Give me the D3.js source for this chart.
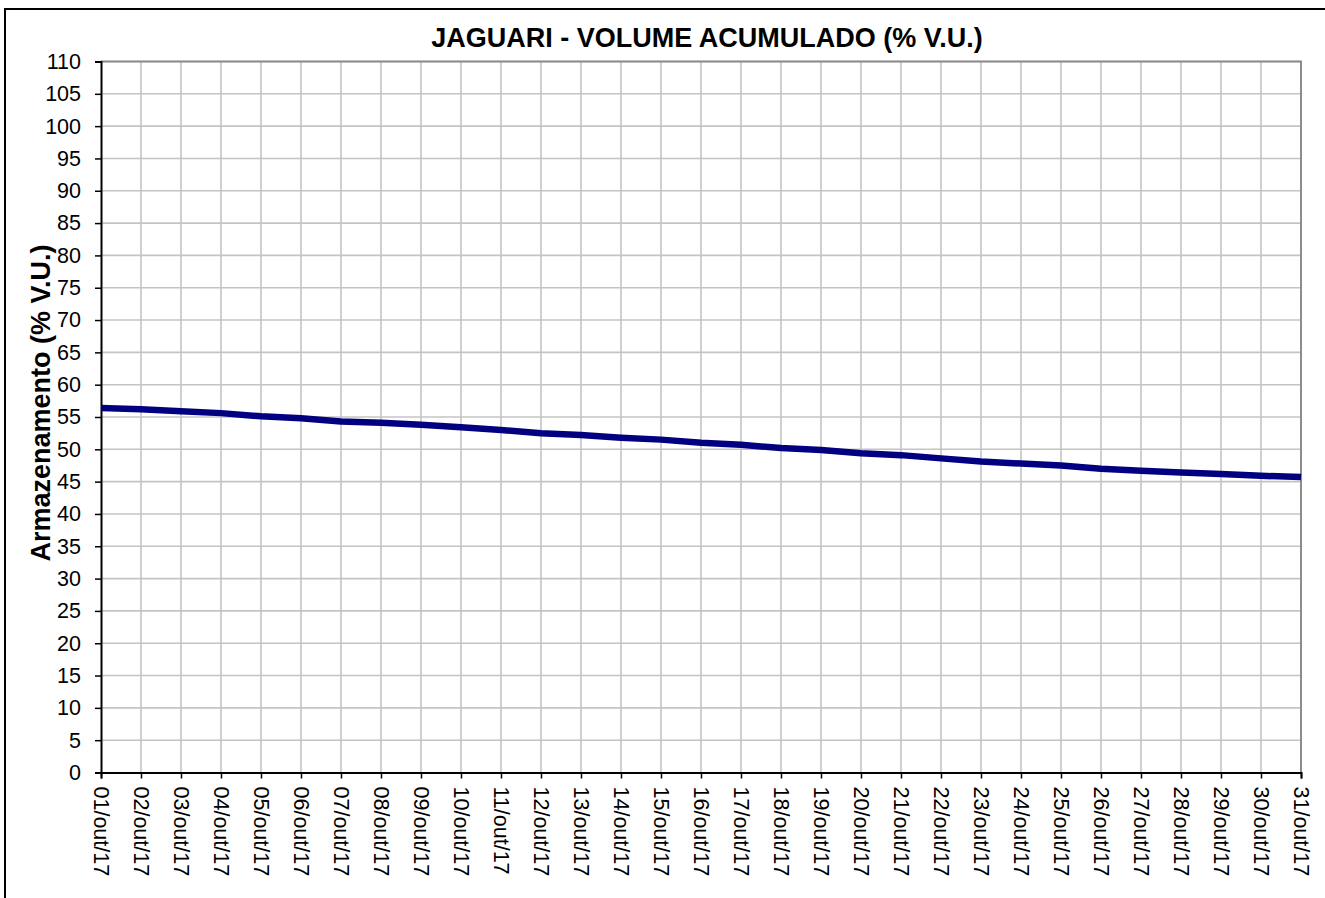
<!DOCTYPE html>
<html>
<head>
<meta charset="utf-8">
<script src="https://cdn.jsdelivr.net/npm/d3@7"></script>
<style>
  body { margin: 0; background: #fff; }
  text { font-family: Arial, "Liberation Sans", sans-serif; }
</style>
</head>
<body>
<div id="wrapper"></div>
<script>
// dias do mes (out/17)
const days = ["01/out/17","02/out/17","03/out/17","04/out/17","05/out/17","06/out/17","07/out/17","08/out/17",
  "09/out/17","10/out/17","11/out/17","12/out/17","13/out/17","14/out/17","15/out/17","16/out/17",
  "17/out/17","18/out/17","19/out/17","20/out/17","21/out/17","22/out/17","23/out/17","24/out/17",
  "25/out/17","26/out/17","27/out/17","28/out/17","29/out/17","30/out/17","31/out/17"]

// volume acumulado, % V.U.
const volume = [56.4, 56.2, 55.9, 55.6, 55.1, 54.8, 54.3, 54.1, 53.8, 53.4, 53.0, 52.5, 52.2, 51.8, 51.5, 51.0,
  50.7, 50.2, 49.9, 49.4, 49.1, 48.6, 48.1, 47.8, 47.5, 47.0, 46.7, 46.4, 46.2, 45.9, 45.7]

const yTicks = d3.range(0, 111, 5)

function drawChart() {
  let dimensions = {
    width: 1325,
    height: 898,
    margin: {
      top: 61.5,
      right: 24,
      bottom: 125.5,
      left: 101,
    }
  }
  dimensions.boundedWidth = dimensions.width - dimensions.margin.left - dimensions.margin.right
  dimensions.boundedHeight = dimensions.height - dimensions.margin.top - dimensions.margin.bottom

  const wrapper = d3.select("#wrapper")
    .append("svg")
    .attr("width", dimensions.width)
    .attr("height", dimensions.height)

  // moldura do grafico (so esquerda e topo aparecem)
  wrapper.append("rect")
    .attr("x", 5)
    .attr("y", 9)
    .attr("width", 1400)
    .attr("height", 1000)
    .attr("fill", "none")
    .attr("stroke", "#000")
    .attr("stroke-width", 2)

  const bounds = wrapper.append("g")
    .attr("transform", `translate(${dimensions.margin.left},${dimensions.margin.top})`)

  const xScaler = d3.scalePoint()
    .domain(days)
    .range([0, dimensions.boundedWidth])

  const yScaler = d3.scaleLinear()
    .domain([0, 110])
    .range([dimensions.boundedHeight, 0])

  // grade
  bounds.append("g")
    .selectAll("line")
    .data(yTicks.slice(1))
    .join("line")
      .attr("x1", 0)
      .attr("x2", dimensions.boundedWidth)
      .attr("y1", d => yScaler(d))
      .attr("y2", d => yScaler(d))
      .attr("stroke", "#c4c4c4")
      .attr("stroke-width", 1.6)

  bounds.append("g")
    .selectAll("line")
    .data(days.slice(1))
    .join("line")
      .attr("x1", d => xScaler(d))
      .attr("x2", d => xScaler(d))
      .attr("y1", 0)
      .attr("y2", dimensions.boundedHeight)
      .attr("stroke", "#c4c4c4")
      .attr("stroke-width", 1.6)

  // borda topo / direita
  bounds.append("path")
    .attr("d", `M0,0H${dimensions.boundedWidth}V${dimensions.boundedHeight}`)
    .attr("fill", "none")
    .attr("stroke", "#8c8c8c")
    .attr("stroke-width", 2)

  const yAxisGen = d3.axisLeft()
    .scale(yScaler)
    .tickValues(yTicks)
    .tickSize(6)
    .tickPadding(14)
  const yAxis = bounds.append("g")
    .call(yAxisGen)
  yAxis.select(".domain").attr("stroke", "#000").attr("stroke-width", 2)
  yAxis.selectAll(".tick line").attr("stroke", "#000").attr("stroke-width", 1.5)
  yAxis.selectAll("text")
    .attr("font-size", "21.5px")
    .attr("font-family", "Arial, 'Liberation Sans', sans-serif")
    .attr("fill", "#000")

  const xAxisGen = d3.axisBottom()
    .scale(xScaler)
    .tickSize(6)
  const xAxis = bounds.append("g")
    .call(xAxisGen)
    .style("transform", `translate(0px, ${dimensions.boundedHeight}px)`)
  xAxis.select(".domain").attr("stroke", "#000").attr("stroke-width", 2)
  xAxis.selectAll(".tick line").attr("stroke", "#000").attr("stroke-width", 1.5)
  xAxis.selectAll("text")
    .style("text-anchor", "start")
    .attr("x", 0)
    .attr("y", 0)
    .attr("dy", ".35em")
    .attr("font-size", "21.5px")
    .attr("font-family", "Arial, 'Liberation Sans', sans-serif")
    .attr("fill", "#000")
    .attr("transform", "translate(0,14) rotate(90)")

  // linha do volume
  const lineGen = d3.line()
    .x((d, i) => xScaler(days[i]))
    .y(d => yScaler(d))

  bounds.append("path")
    .datum(volume)
    .attr("d", lineGen)
    .attr("fill", "none")
    .attr("stroke", "#000080")
    .attr("stroke-width", 6.5)
    .attr("stroke-linejoin", "round")

  wrapper.append("text")
    .attr("x", 707)
    .attr("y", 47)
    .text("JAGUARI - VOLUME ACUMULADO (% V.U.)")
    .attr("fill", "black")
    .attr("font-size", "27px")
    .attr("font-weight", "bold")
    .attr("text-anchor", "middle")

  wrapper.append("text")
    .attr("transform", "translate(50,403) rotate(-90)")
    .text("Armazenamento (% V.U.)")
    .attr("fill", "black")
    .attr("font-size", "27px")
    .attr("font-weight", "bold")
    .attr("text-anchor", "middle")
}

drawChart()
</script>
</body>
</html>
